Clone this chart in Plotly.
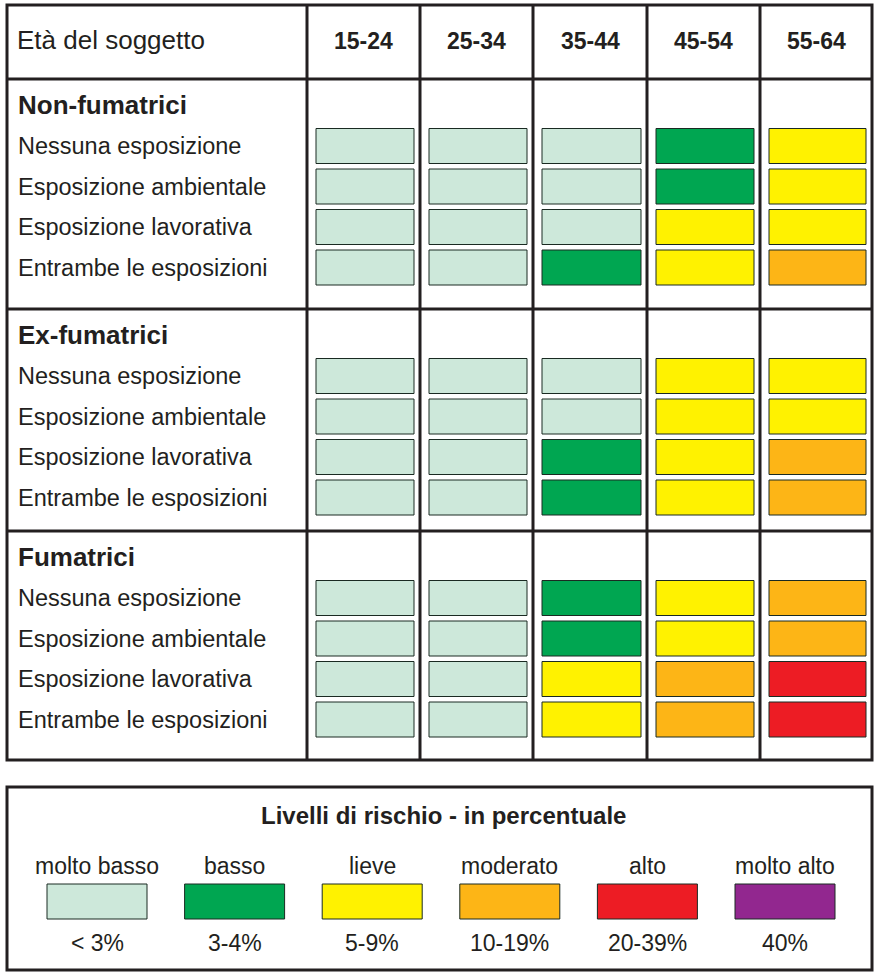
import plotly.graph_objects as go

# ---------------- data ----------------
age_groups = ["15-24", "25-34", "35-44", "45-54", "55-64"]
groups = ["Non-fumatrici", "Ex-fumatrici", "Fumatrici"]
exposures = ["Nessuna esposizione", "Esposizione ambientale",
             "Esposizione lavorativa", "Entrambe le esposizioni"]

levels = ["molto basso", "basso", "lieve", "moderato", "alto", "molto alto"]
level_ranges = ["< 3%", "3-4%", "5-9%", "10-19%", "20-39%", "40%"]
level_colors = ["#cde8da", "#00a651", "#fff200", "#fdb516", "#ed1c24", "#92278f"]

# risk level index per exposure row and age group
non_fumatrici = [[0, 0, 0, 1, 2],
                 [0, 0, 0, 1, 2],
                 [0, 0, 0, 2, 2],
                 [0, 0, 1, 2, 3]]
ex_fumatrici = [[0, 0, 0, 2, 2],
                [0, 0, 0, 2, 2],
                [0, 0, 1, 2, 3],
                [0, 0, 1, 2, 3]]
fumatrici = [[0, 0, 1, 2, 3],
             [0, 0, 1, 2, 3],
             [0, 0, 2, 3, 4],
             [0, 0, 2, 3, 4]]
group_values = [non_fumatrici, ex_fumatrici, fumatrici]

# ---------------- layout constants ----------------
W, H = 889, 980
col_edges = [7, 307, 420, 533, 647, 760, 872]
header_top, header_bot = 5, 79
section_edges = [79, 309, 531, 760]
row_pitch = 40.5
cell_h = 35
FONT = "Liberation Sans, Arial, sans-serif"
LINE = "#231f20"

shapes = []
annotations = []

def add_line(x0, y0, x1, y1, w=3):
    shapes.append(dict(type="line", xref="x", yref="y", x0=x0, y0=y0, x1=x1, y1=y1,
                       line=dict(color=LINE, width=w)))

def add_rect(x0, y0, x1, y1, fill, w=1, color="#1a2a22"):
    shapes.append(dict(type="rect", xref="x", yref="y", x0=x0, y0=y0, x1=x1, y1=y1,
                       fillcolor=fill, line=dict(color=color, width=w)))

def add_text(x, y, text, size, bold=False, xanchor="left", font=FONT):
    annotations.append(dict(xref="x", yref="y", x=x, y=y, text=f"<b>{text}</b>" if bold else text,
                            showarrow=False, xanchor=xanchor, yanchor="middle",
                            font=dict(family=font, size=size, color="#231f20")))

# table grid
add_rect(col_edges[0], header_top, col_edges[-1], section_edges[-1], "rgba(0,0,0,0)", w=3, color=LINE)
for xe in col_edges[1:-1]:
    add_line(xe, header_top, xe, section_edges[-1])
for ye in [header_bot] + section_edges[1:-1]:
    add_line(col_edges[0], ye, col_edges[-1], ye)

# header
add_text(15, 40, "Età del soggetto", 26)
for j, a in enumerate(age_groups):
    add_text((col_edges[j + 1] + col_edges[j + 2]) / 2, 41, a, 23, bold=True, xanchor="center")

# sections
for g, (name, vals) in enumerate(zip(groups, group_values)):
    top = section_edges[g]
    add_text(16, top + 26, name, 26, bold=True)
    for i, (expo, row) in enumerate(zip(exposures, vals)):
        yc = top + 67 + i * row_pitch
        add_text(16, yc, expo, 23.5)
        for j, lv in enumerate(row):
            x0 = col_edges[j + 1] + 9
            x1 = col_edges[j + 2] - 6
            add_rect(x0, yc - cell_h / 2, x1, yc + cell_h / 2, level_colors[lv])

# legend box
leg_top, leg_bot = 787, 970
add_rect(7, leg_top, 872, leg_bot, "rgba(0,0,0,0)", w=3, color=LINE)
add_text(443, 815, "Livelli di rischio - in percentuale", 24, bold=True, xanchor="center")
for k, (lab, rng, col) in enumerate(zip(levels, level_ranges, level_colors)):
    xc = 97 + k * 137.6
    add_text(xc, 866, lab, 23, xanchor="center")
    add_rect(xc - 50, 884, xc + 50, 919, col)
    add_text(xc, 943, rng, 23, xanchor="center")

fig = go.Figure()
fig.add_trace(go.Scatter(x=[0, W], y=[0, H], mode="markers", marker=dict(opacity=0),
                         hoverinfo="skip", showlegend=False))
fig.update_layout(
    width=W, height=H, margin=dict(l=0, r=0, t=0, b=0),
    paper_bgcolor="white", plot_bgcolor="white",
    xaxis=dict(range=[0, W], visible=False, fixedrange=True),
    yaxis=dict(range=[H, 0], visible=False, fixedrange=True),
    shapes=shapes, annotations=annotations, showlegend=False,
)
fig.write_html("out.html", config={"displayModeBar": False},
               post_script="document.body.style.margin='0';")
